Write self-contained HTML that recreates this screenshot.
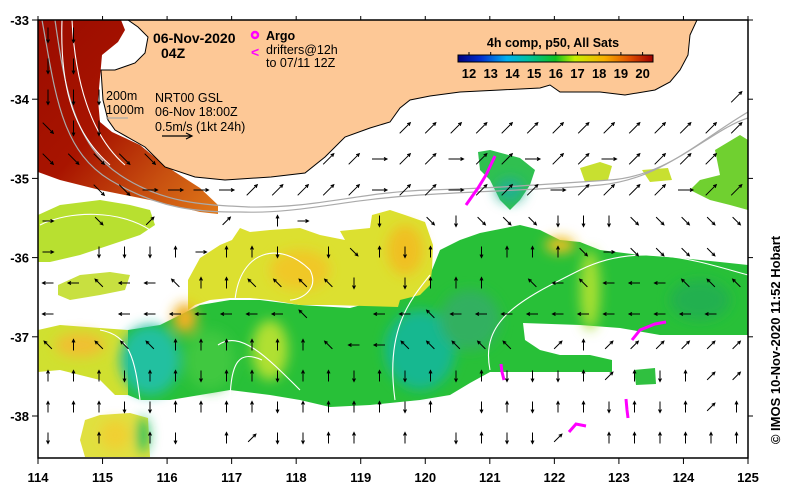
<!DOCTYPE html>
<html><head><meta charset="utf-8"><style>
html,body{margin:0;padding:0;background:#fff;}
svg{display:block;font-family:"Liberation Sans",sans-serif;}
.tk{font-weight:bold;font-size:13px;}
.t{font-size:12.5px;}
</style></head><body>
<svg id="map" width="790" height="492" viewBox="0 0 790 492">
<defs>
<linearGradient id="warm" x1="0" y1="0" x2="1" y2="1">
<stop offset="0" stop-color="#9a0c00"/><stop offset="0.45" stop-color="#a81400"/><stop offset="0.75" stop-color="#c85010"/><stop offset="1" stop-color="#e07818"/>
</linearGradient>
<linearGradient id="cbar" x1="0" x2="1">
<stop offset="0" stop-color="#00007f"/><stop offset="0.12" stop-color="#0030d0"/><stop offset="0.25" stop-color="#00b0f0"/><stop offset="0.36" stop-color="#00c0a0"/><stop offset="0.5" stop-color="#10c020"/><stop offset="0.6" stop-color="#c8f000"/><stop offset="0.75" stop-color="#f8b000"/><stop offset="0.88" stop-color="#e05000"/><stop offset="1" stop-color="#a00000"/>
</linearGradient>
<filter id="bl" x="-30%" y="-30%" width="160%" height="160%"><feGaussianBlur stdDeviation="6"/></filter>
<clipPath id="plot"><rect x="38" y="20" width="710" height="438"/></clipPath>
</defs>
<g clip-path="url(#plot)">
<polygon fill="url(#warm)" points="38,20 121,20 125,30 118,42 102,55 98,100 100,122 112,132 140,145 158,160 175,172 200,188 218,205 218,214 200,212 150,200 100,190 60,180 38,172"/>
<polygon fill="#b8e030" points="38,215 60,205 100,200 130,205 150,210 155,225 140,235 110,245 80,255 50,262 38,262"/>
<polygon fill="#c8e040" points="58,285 80,275 110,272 130,275 125,290 100,295 70,300 58,295"/>
<polygon fill="#28c038" points="128,330 160,325 200,305 230,300 260,300 300,305 350,308 398,295 410,285 430,275 440,250 460,240 480,233 520,225 540,230 560,240 580,242 600,250 640,255 680,258 720,262 748,265 748,335 700,335 660,335 620,328 580,325 523,323 525,340 540,350 560,355 590,355 612,360 612,372 560,372 520,372 490,372 470,383 450,395 420,400 390,403 370,405 330,407 300,400 270,395 230,390 200,395 170,400 140,400 128,395"/>
<polygon fill="#dce030" points="188,280 200,258 220,245 232,240 240,228 250,232 270,230 300,228 320,235 345,240 340,231 370,228 372,215 390,210 405,215 425,222 433,245 432,270 430,285 420,295 400,300 398,307 330,305 300,305 270,300 250,298 230,298 210,300 195,305 188,310"/>
<polygon fill="#d0e030" points="38,330 60,325 100,328 128,330 128,395 115,395 100,380 80,375 60,370 38,372"/>
<polygon fill="#e0e040" points="85,420 100,415 130,413 148,418 150,457 85,457 80,440"/>
<polygon fill="#30c050" points="478,152 490,150 520,158 535,170 530,185 520,200 510,210 500,200 490,180 480,170"/>
<polygon fill="#70d030" points="715,150 740,135 748,140 748,210 730,205 710,200 690,190 700,180 720,175"/>
<polygon fill="#c8e030" points="580,168 600,162 612,166 608,180 585,182"/>
<polygon fill="#c8e030" points="642,170 668,168 672,180 650,182"/>
<polygon fill="#30c040" points="634,370 655,368 656,384 636,385"/>
<g filter="url(#bl)">
<ellipse cx="150" cy="360" rx="30" ry="35" fill="#20c0a0"/>
<ellipse cx="210" cy="360" rx="25" ry="30" fill="#40c840"/>
<ellipse cx="270" cy="350" rx="18" ry="30" fill="#b0e030"/>
<ellipse cx="185" cy="318" rx="12" ry="15" fill="#f0b020"/>
<ellipse cx="420" cy="350" rx="35" ry="40" fill="#18b890"/>
<ellipse cx="470" cy="320" rx="30" ry="30" fill="#30b060"/>
<ellipse cx="590" cy="290" rx="10" ry="40" fill="#a8e030"/>
<ellipse cx="560" cy="245" rx="15" ry="8" fill="#f0c020"/>
<ellipse cx="700" cy="300" rx="30" ry="20" fill="#20b050"/>
<ellipse cx="405" cy="250" rx="18" ry="25" fill="#f0c020"/>
<ellipse cx="300" cy="270" rx="30" ry="20" fill="#f0c828"/>
<ellipse cx="80" cy="345" rx="25" ry="12" fill="#f0c030"/>
<ellipse cx="115" cy="435" rx="15" ry="15" fill="#f0d030"/>
<ellipse cx="143" cy="435" rx="6" ry="18" fill="#20c060"/>
<ellipse cx="510" cy="190" rx="14" ry="12" fill="#20b090"/>
</g>
<polygon fill="#fdc896" stroke="#000" stroke-width="1" points="128,20 697,20 690,35 688,55 680,70 670,82 655,90 625,95 600,92 560,92 550,85 540,88 500,90 460,92 430,96 410,100 400,108 390,122 370,128 345,137 325,157 305,173 271,177 225,180 195,177 165,167 145,147 115,130 108,120 103,100 101,70 115,70 135,63 145,53 148,37 138,27"/>
<g fill="none" stroke="#aaa" stroke-width="1.2">
<path d="M42,20 C55,90 60,150 110,180 S200,212 240,212 C300,214 340,200 420,195 S540,190 600,185 S700,140 748,112"/>
<path d="M55,20 C65,90 75,145 120,175 S210,205 250,207 C320,208 360,192 430,190 S550,184 610,180 S710,130 748,118"/>
</g>
<g fill="none" stroke="#fff" stroke-width="1.1">
<path d="M62,20 C60,80 70,130 110,165"/>
<path d="M72,20 C75,80 90,135 125,165"/>
<path d="M40,225 C70,210 120,210 150,230"/>
<path d="M100,330 C130,335 135,360 140,400"/>
<path d="M218,345 C240,330 265,355 300,390"/>
<path d="M230,405 C230,360 240,350 262,360"/>
<path d="M395,400 C385,330 410,300 430,275"/>
<path d="M490,370 C480,320 520,300 580,270 S700,262 748,275"/>
<path d="M235,300 C240,250 280,240 310,270 C320,290 300,300 290,300"/>
</g>
<g fill="none" stroke="#ff00ff" stroke-width="3">
<path d="M466,205 L478,188 L486,175 L495,156"/>
<path d="M501,364 L502,372 L504,380"/>
<path d="M632,340 L640,330 L655,324 L666,322"/>
<path d="M626,399 L627,410 L628,418"/>
<path d="M569,432 L576,424 L586,426"/>
</g>
<g id="arrows"></g>
</g>
<rect x="38" y="20" width="710" height="438" fill="none" stroke="#000" stroke-width="1.5"/>
<g id="axes"></g>
<g>
<text x="153" y="43" font-weight="bold" font-size="14">06-Nov-2020</text>
<text x="161" y="58" font-weight="bold" font-size="14">04Z</text>
<circle cx="255" cy="35" r="3" fill="none" stroke="#ff00ff" stroke-width="2.5"/>
<text x="266" y="40" font-weight="bold" font-size="12.5">Argo</text>
<text x="251" y="57" fill="#ff00ff" font-weight="bold" font-size="14">&lt;</text>
<text x="266" y="54" class="t">drifters@12h</text>
<text x="266" y="67" class="t">to 07/11 12Z</text>
<text x="106" y="100" class="t">200m</text>
<text x="106" y="114" class="t">1000m</text>
<line x1="106" y1="118" x2="128" y2="118" stroke="#aaa" stroke-width="1.2"/>
<text x="155" y="102" class="t">NRT00 GSL</text>
<text x="155" y="116" class="t">06-Nov 18:00Z</text>
<text x="155" y="131" class="t">0.5m/s (1kt 24h)</text>
<line x1="162" y1="136" x2="192" y2="136" stroke="#000" stroke-width="1.2"/>
<path d="M186,133 L192,136 L186,139" fill="none" stroke="#000" stroke-width="1.2"/>
</g>
<g>
<text x="553" y="47" text-anchor="middle" font-weight="bold" font-size="12.5">4h comp, p50, All Sats</text>
<rect x="458" y="55" width="195" height="7" fill="url(#cbar)" stroke="#000" stroke-width="1"/>
<g id="cbticks"></g>
</g>
<text transform="translate(780,340) rotate(-90)" text-anchor="middle" font-weight="bold" font-size="13">© IMOS 10-Nov-2020 11:52 Hobart</text>
</svg>
<script>
const xTicks=[114,115,116,117,118,119,120,121,122,123,124,125];
const yTicks=[-33,-34,-35,-36,-37,-38];
const cbTicks=[12,13,14,15,16,17,18,19,20];
// arrow directions per row: 0=E 1=NE 2=N 3=NW 4=W 5=SW 6=S 7=SE .=none
const arrowRows=[
"66..........................",
"66..........................",
"666........................1",
"766...........11111111111111",
"77777......1101101101101111",
"..77000011111011011101111011",
"0.7.1..1.20..6.7677766677777",
"0.66620226.67262.6222707777.",
"4434432233336.6222.343444333",
"4..44444443..44344444444444.",
"3233322222234433333.12111111",
"2226226226226262626662126211",
"2226622226222262.62622626212",
"6.2.26.216622.2.62661.222222"
];
const NS='http://www.w3.org/2000/svg';
const ax=document.getElementById('axes');
function xs(lon){return 38+(lon-114)*64.545;}
function ys(lat){return 20+(-33-lat)*79.2;}
function mk(tag,attrs,parent){const e=document.createElementNS(NS,tag);for(const k in attrs)e.setAttribute(k,attrs[k]);parent.appendChild(e);return e;}
xTicks.forEach(v=>{
  const x=xs(v);
  const t=mk('line',{x1:x,y1:458,x2:x,y2:464,stroke:'#000','stroke-width':1},ax);
  
  
  const t2=mk('line',{x1:x,y1:20,x2:x,y2:16,stroke:'#000','stroke-width':1},ax);
  
  
  const l=mk('text',{x:x,y:482,'text-anchor':'middle','class':'tk'},ax);
  l.textContent=v;
  
  
});
yTicks.forEach(v=>{
  const y=ys(v);
  const t=mk('line',{x1:32,y1:y,x2:38,y2:y,stroke:'#000','stroke-width':1},ax);
  
  
  const t2=mk('line',{x1:748,y1:y,x2:753,y2:y,stroke:'#000','stroke-width':1},ax);
  
  
  const l=mk('text',{x:29,y:y+5,'text-anchor':'end','class':'tk'},ax);
  l.textContent=v;
  
  
});
const cb=document.getElementById('cbticks');
cbTicks.forEach((v,i)=>{
  const x=469+i*21.7;
  const l=mk('text',{x:x,y:78,'text-anchor':'middle','class':'tk'},cb);
  l.textContent=v;
  
  
  const t=mk('line',{x1:x,y1:55,x2:x,y2:52,stroke:'#000','stroke-width':1},cb);
  
  
});
const ag=document.getElementById('arrows');
arrowRows.forEach((row,j)=>{
  for(let i=0;i<row.length;i++){
    const c=row[i]; if(c==='.')continue;
    const a=parseInt(c)*Math.PI/4;
    const x=48+25.5*i, y=35+31*j, L=(j<6?15:11);
    const dx=Math.cos(a)*L/2, dy=-Math.sin(a)*L/2;
    const x1=x-dx,y1=y-dy,x2=x+dx,y2=y+dy;
    const hx=Math.cos(a), hy=-Math.sin(a);
    const p=mk('path',{d:`M${x1},${y1}L${x2},${y2}M${x2-hx*3-hy*1.5},${y2-hy*3+hx*1.5}L${x2},${y2}L${x2-hx*3+hy*1.5},${y2-hy*3-hx*1.5}`,stroke:'#000','stroke-width':1,fill:'none'},ag);
    
    
  }
});
</script>
</body></html>
